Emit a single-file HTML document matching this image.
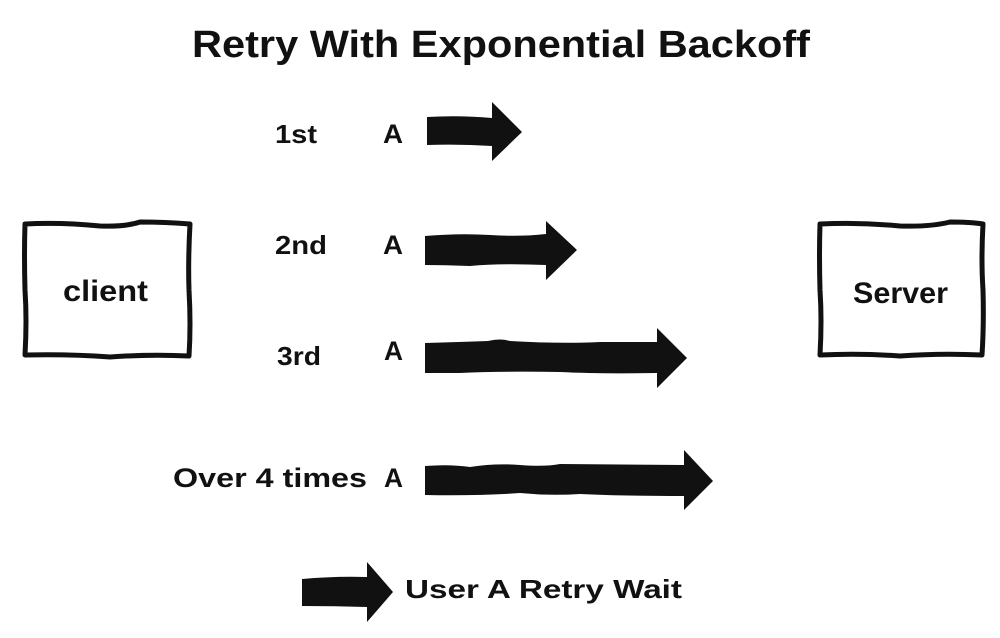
<!DOCTYPE html>
<html>
<head>
<meta charset="utf-8">
<style>
  html,body{margin:0;padding:0;background:#fff;}
  svg{display:block;}
  text{font-family:"Liberation Sans",sans-serif;font-weight:bold;fill:#111;}
</style>
</head>
<body>
<svg width="1000" height="638" viewBox="0 0 1000 638" xmlns="http://www.w3.org/2000/svg">
  <rect width="1000" height="638" fill="#fff"/>

  <!-- Title -->
  <text x="192" y="57" font-size="38" textLength="618" lengthAdjust="spacingAndGlyphs">Retry With Exponential Backoff</text>

  <!-- Client box -->
  <path d="M25,224 Q60,222 100,226 Q125,227 140,222 Q165,222 190,224 Q188,260 189,290 Q191,325 189,356 Q150,354 110,357 Q70,354 25,355 Q27,320 25,290 Q24,255 25,224 Z" fill="#fff" stroke="#111" stroke-width="5" stroke-linejoin="round"/>
  <text x="63" y="301" font-size="30" textLength="85" lengthAdjust="spacingAndGlyphs">client</text>

  <!-- Server box -->
  <path d="M820,224 Q860,222 900,226 Q930,227 950,222 Q970,222 983,224 Q981,260 983,290 Q984,325 982,355 Q940,353 900,356 Q860,353 820,355 Q822,320 820,290 Q819,255 820,224 Z" fill="#fff" stroke="#111" stroke-width="5" stroke-linejoin="round"/>
  <text x="853" y="303" font-size="30" textLength="95" lengthAdjust="spacingAndGlyphs">Server</text>

  <!-- Row 1 -->
  <text x="275" y="143" font-size="26" textLength="42" lengthAdjust="spacingAndGlyphs">1st</text>
  <text x="383" y="143" font-size="27" textLength="20" lengthAdjust="spacingAndGlyphs">A</text>
  <path d="M427,117 Q460,115 492,118 L492,102 L522,132 L492,161 L492,146 Q460,144 427,145 Z" fill="#111"/>

  <!-- Row 2 -->
  <text x="275" y="254" font-size="26" textLength="52" lengthAdjust="spacingAndGlyphs">2nd</text>
  <text x="383" y="254" font-size="27" textLength="20" lengthAdjust="spacingAndGlyphs">A</text>
  <path d="M425,236 Q460,233 490,235 Q520,237 546,234 L546,221 L577,250 L546,280 L546,265 Q500,263 470,266 Q445,265 425,265 Z" fill="#111"/>

  <!-- Row 3 -->
  <text x="277" y="365" font-size="26" textLength="44" lengthAdjust="spacingAndGlyphs">3rd</text>
  <text x="384" y="360" font-size="27" textLength="19" lengthAdjust="spacingAndGlyphs">A</text>
  <path d="M425,343 Q460,342 488,341 Q500,338 510,341 Q560,344 600,342 L657,342 L657,328 L687,358 L657,388 L657,373 Q600,374 560,372 Q500,371 460,373 L425,373 Z" fill="#111"/>

  <!-- Row 4 -->
  <text x="173" y="487" font-size="27" textLength="194" lengthAdjust="spacingAndGlyphs">Over 4 times</text>
  <text x="384" y="487" font-size="27" textLength="19" lengthAdjust="spacingAndGlyphs">A</text>
  <path d="M425,466 Q450,464 470,467 Q495,463 520,465 Q545,467 560,464 L684,465 L684,450 L713,481 L684,510 L684,496 Q620,496 580,494 Q550,496 520,493 Q480,496 425,495 Z" fill="#111"/>

  <!-- Legend -->
  <path d="M302,579 Q335,576 367,577 L367,562 L393,592 L367,622 L367,607 Q335,606 302,606 Z" fill="#111"/>
  <text x="405" y="598" font-size="26" textLength="277" lengthAdjust="spacingAndGlyphs">User A Retry Wait</text>
</svg>
</body>
</html>
